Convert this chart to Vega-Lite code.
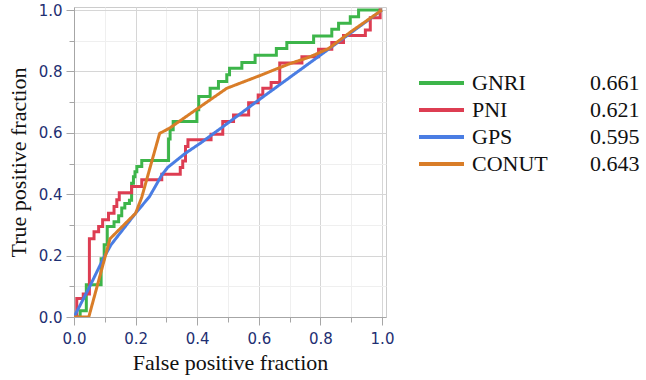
{
  "$schema": "https://vega.github.io/schema/vega-lite/v6.json",
  "autosize": "none",
  "width": 312,
  "height": 310,
  "padding": {"left": 74, "top": 7, "right": 260, "bottom": 63},
  "background": "white",
  "config": {
    "view": {"stroke": "#cccccc", "strokeWidth": 1},
    "axis": {
      "domainColor": "#a6a6a6",
      "tickColor": "#a6a6a6",
      "labelFont": "DejaVu Sans",
      "labelFontSize": 15,
      "labelColor": "#1e2f72",
      "titleFont": "Liberation Serif",
      "titleFontSize": 22,
      "titleFontWeight": "normal",
      "titleColor": "#111111",
      "labelOverlap": false,
      "labelFlush": false
    }
  },
  "datasets": {
    "auc": [
      {"s": "GNRI", "auc": "0.661"},
      {"s": "PNI", "auc": "0.621"},
      {"s": "GPS", "auc": "0.595"},
      {"s": "CONUT", "auc": "0.643"}
    ],
    "roc": [
      {"s":"GNRI","x":0,"y":0},{"s":"GNRI","x":0.02,"y":0},{"s":"GNRI","x":0.02,"y":0.02},{"s":"GNRI","x":0.04,"y":0.02},{"s":"GNRI","x":0.04,"y":0.105},{"s":"GNRI","x":0.088,"y":0.105},{"s":"GNRI","x":0.088,"y":0.19},{"s":"GNRI","x":0.098,"y":0.19},{"s":"GNRI","x":0.098,"y":0.235},{"s":"GNRI","x":0.108,"y":0.235},{"s":"GNRI","x":0.108,"y":0.295},{"s":"GNRI","x":0.13,"y":0.295},{"s":"GNRI","x":0.13,"y":0.31},{"s":"GNRI","x":0.145,"y":0.31},{"s":"GNRI","x":0.145,"y":0.33},{"s":"GNRI","x":0.155,"y":0.33},{"s":"GNRI","x":0.155,"y":0.355},{"s":"GNRI","x":0.165,"y":0.355},{"s":"GNRI","x":0.165,"y":0.37},{"s":"GNRI","x":0.18,"y":0.37},{"s":"GNRI","x":0.18,"y":0.38},{"s":"GNRI","x":0.187,"y":0.38},{"s":"GNRI","x":0.187,"y":0.436},{"s":"GNRI","x":0.193,"y":0.436},{"s":"GNRI","x":0.193,"y":0.457},{"s":"GNRI","x":0.198,"y":0.457},{"s":"GNRI","x":0.198,"y":0.473},{"s":"GNRI","x":0.204,"y":0.473},{"s":"GNRI","x":0.204,"y":0.49},{"s":"GNRI","x":0.22,"y":0.49},{"s":"GNRI","x":0.22,"y":0.51},{"s":"GNRI","x":0.307,"y":0.51},{"s":"GNRI","x":0.307,"y":0.58},{"s":"GNRI","x":0.312,"y":0.58},{"s":"GNRI","x":0.312,"y":0.61},{"s":"GNRI","x":0.322,"y":0.61},{"s":"GNRI","x":0.322,"y":0.637},{"s":"GNRI","x":0.399,"y":0.637},{"s":"GNRI","x":0.399,"y":0.675},{"s":"GNRI","x":0.405,"y":0.675},{"s":"GNRI","x":0.405,"y":0.718},{"s":"GNRI","x":0.442,"y":0.718},{"s":"GNRI","x":0.442,"y":0.745},{"s":"GNRI","x":0.469,"y":0.745},{"s":"GNRI","x":0.469,"y":0.767},{"s":"GNRI","x":0.496,"y":0.767},{"s":"GNRI","x":0.496,"y":0.789},{"s":"GNRI","x":0.505,"y":0.789},{"s":"GNRI","x":0.505,"y":0.81},{"s":"GNRI","x":0.545,"y":0.81},{"s":"GNRI","x":0.545,"y":0.829},{"s":"GNRI","x":0.588,"y":0.829},{"s":"GNRI","x":0.588,"y":0.853},{"s":"GNRI","x":0.657,"y":0.853},{"s":"GNRI","x":0.657,"y":0.875},{"s":"GNRI","x":0.691,"y":0.875},{"s":"GNRI","x":0.691,"y":0.894},{"s":"GNRI","x":0.778,"y":0.894},{"s":"GNRI","x":0.778,"y":0.915},{"s":"GNRI","x":0.837,"y":0.915},{"s":"GNRI","x":0.837,"y":0.937},{"s":"GNRI","x":0.859,"y":0.937},{"s":"GNRI","x":0.859,"y":0.957},{"s":"GNRI","x":0.897,"y":0.957},{"s":"GNRI","x":0.897,"y":0.978},{"s":"GNRI","x":0.924,"y":0.978},{"s":"GNRI","x":0.924,"y":1},{"s":"GNRI","x":1,"y":1},
      {"s":"PNI","x":0,"y":0},{"s":"PNI","x":0.009,"y":0},{"s":"PNI","x":0.009,"y":0.06},{"s":"PNI","x":0.03,"y":0.06},{"s":"PNI","x":0.03,"y":0.075},{"s":"PNI","x":0.05,"y":0.075},{"s":"PNI","x":0.05,"y":0.255},{"s":"PNI","x":0.065,"y":0.255},{"s":"PNI","x":0.065,"y":0.278},{"s":"PNI","x":0.08,"y":0.278},{"s":"PNI","x":0.08,"y":0.295},{"s":"PNI","x":0.093,"y":0.295},{"s":"PNI","x":0.093,"y":0.317},{"s":"PNI","x":0.112,"y":0.317},{"s":"PNI","x":0.112,"y":0.338},{"s":"PNI","x":0.13,"y":0.338},{"s":"PNI","x":0.13,"y":0.36},{"s":"PNI","x":0.139,"y":0.36},{"s":"PNI","x":0.139,"y":0.382},{"s":"PNI","x":0.147,"y":0.382},{"s":"PNI","x":0.147,"y":0.405},{"s":"PNI","x":0.187,"y":0.405},{"s":"PNI","x":0.187,"y":0.425},{"s":"PNI","x":0.22,"y":0.425},{"s":"PNI","x":0.22,"y":0.447},{"s":"PNI","x":0.285,"y":0.447},{"s":"PNI","x":0.285,"y":0.465},{"s":"PNI","x":0.345,"y":0.465},{"s":"PNI","x":0.345,"y":0.487},{"s":"PNI","x":0.353,"y":0.487},{"s":"PNI","x":0.353,"y":0.508},{"s":"PNI","x":0.362,"y":0.508},{"s":"PNI","x":0.362,"y":0.555},{"s":"PNI","x":0.37,"y":0.555},{"s":"PNI","x":0.37,"y":0.577},{"s":"PNI","x":0.445,"y":0.577},{"s":"PNI","x":0.445,"y":0.595},{"s":"PNI","x":0.483,"y":0.595},{"s":"PNI","x":0.483,"y":0.637},{"s":"PNI","x":0.518,"y":0.637},{"s":"PNI","x":0.518,"y":0.658},{"s":"PNI","x":0.567,"y":0.658},{"s":"PNI","x":0.567,"y":0.698},{"s":"PNI","x":0.598,"y":0.698},{"s":"PNI","x":0.598,"y":0.723},{"s":"PNI","x":0.613,"y":0.723},{"s":"PNI","x":0.613,"y":0.745},{"s":"PNI","x":0.64,"y":0.745},{"s":"PNI","x":0.64,"y":0.764},{"s":"PNI","x":0.668,"y":0.764},{"s":"PNI","x":0.668,"y":0.827},{"s":"PNI","x":0.74,"y":0.827},{"s":"PNI","x":0.74,"y":0.848},{"s":"PNI","x":0.794,"y":0.848},{"s":"PNI","x":0.794,"y":0.872},{"s":"PNI","x":0.837,"y":0.872},{"s":"PNI","x":0.837,"y":0.894},{"s":"PNI","x":0.875,"y":0.894},{"s":"PNI","x":0.875,"y":0.917},{"s":"PNI","x":0.946,"y":0.917},{"s":"PNI","x":0.946,"y":0.935},{"s":"PNI","x":0.962,"y":0.935},{"s":"PNI","x":0.962,"y":0.975},{"s":"PNI","x":0.994,"y":0.975},{"s":"PNI","x":0.994,"y":1},{"s":"PNI","x":1,"y":1},
      {"s":"GPS","x":0,"y":0},{"s":"GPS","x":0.05,"y":0.097},{"s":"GPS","x":0.095,"y":0.19},{"s":"GPS","x":0.12,"y":0.235},{"s":"GPS","x":0.2,"y":0.338},{"s":"GPS","x":0.245,"y":0.392},{"s":"GPS","x":0.285,"y":0.4625},{"s":"GPS","x":0.305,"y":0.488},{"s":"GPS","x":0.36,"y":0.532},{"s":"GPS","x":0.41,"y":0.566},{"s":"GPS","x":0.5,"y":0.632},{"s":"GPS","x":0.6,"y":0.707},{"s":"GPS","x":0.7,"y":0.78},{"s":"GPS","x":0.826,"y":0.872},{"s":"GPS","x":1,"y":1},
      {"s":"CONUT","x":0,"y":0},{"s":"CONUT","x":0.048,"y":0},{"s":"CONUT","x":0.117,"y":0.255},{"s":"CONUT","x":0.2,"y":0.338},{"s":"CONUT","x":0.22,"y":0.39},{"s":"CONUT","x":0.278,"y":0.598},{"s":"CONUT","x":0.31,"y":0.615},{"s":"CONUT","x":0.41,"y":0.685},{"s":"CONUT","x":0.496,"y":0.745},{"s":"CONUT","x":0.6,"y":0.785},{"s":"CONUT","x":0.7,"y":0.825},{"s":"CONUT","x":0.76,"y":0.845},{"s":"CONUT","x":0.826,"y":0.874},{"s":"CONUT","x":0.9,"y":0.93},{"s":"CONUT","x":1,"y":1}
    ]
  },
  "data": {"name": "roc"},
  "transform": [
    {"lookup": "s", "from": {"data": {"name": "auc"}, "key": "s", "fields": ["auc"]}}
  ],
  "mark": {"type": "line", "strokeWidth": 3, "clip": true},
  "encoding": {
    "x": {
      "field": "x", "type": "quantitative",
      "scale": {"domain": [0, 1.013], "nice": false, "zero": false},
      "axis": {
        "title": "False positive fraction",
        "values": [0, 0.1, 0.2, 0.3, 0.4, 0.5, 0.6, 0.7, 0.8, 0.9, 1.0],
        "labelExpr": "round(datum.value*10) % 2 == 0 ? format(datum.value, '.1f') : ''",
        "tickSize": {"condition": {"test": "round(datum.value*10) % 2 == 1", "value": 5}, "value": 8},
        "gridColor": {"condition": {"test": "round(datum.value*10) % 2 == 1", "value": "#efefef"}, "value": "#d6d6d6"},
        "labelPadding": 6,
        "titlePadding": 6
      }
    },
    "y": {
      "field": "y", "type": "quantitative",
      "scale": {"domain": [0, 1.0098], "nice": false, "zero": false},
      "axis": {
        "title": "True positive fraction",
        "values": [0, 0.1, 0.2, 0.3, 0.4, 0.5, 0.6, 0.7, 0.8, 0.9, 1.0],
        "labelExpr": "round(datum.value*10) % 2 == 0 ? format(datum.value, '.1f') : ''",
        "tickSize": {"condition": {"test": "round(datum.value*10) % 2 == 1", "value": 5}, "value": 8},
        "gridColor": {"condition": {"test": "round(datum.value*10) % 2 == 1", "value": "#efefef"}, "value": "#d6d6d6"},
        "labelPadding": 4,
        "titlePadding": 8
      }
    },
    "color": {
      "field": "s", "type": "nominal",
      "scale": {"domain": ["GNRI", "PNI", "GPS", "CONUT"], "range": ["#3db54a", "#dd3d52", "#4a7de3", "#d97d28"]},
      "legend": {
        "title": null, "orient": "none", "legendX": 343, "legendY": 62.5,
        "padding": 0, "symbolType": "stroke", "symbolSize": 2025, "symbolStrokeWidth": 4,
        "clipHeight": 27, "rowPadding": 0, "labelOffset": 6,
        "labelFont": "Liberation Serif", "labelFontSize": 22, "labelColor": "#111111", "labelLimit": 200
      }
    },
    "strokeDash": {
      "field": "auc", "type": "nominal",
      "scale": {"domain": ["0.661", "0.621", "0.595", "0.643"], "range": [[1, 0], [1, 0], [1, 0], [1, 0]]},
      "legend": {
        "title": null, "orient": "none", "legendX": 461, "legendY": 62.5,
        "padding": 0, "symbolType": "stroke", "symbolSize": 2025, "symbolOpacity": 0, "symbolStrokeWidth": 4,
        "clipHeight": 27, "rowPadding": 0, "labelOffset": 6,
        "labelFont": "Liberation Serif", "labelFontSize": 22, "labelColor": "#111111", "labelLimit": 200
      }
    },
    "order": {"value": null}
  }
}
